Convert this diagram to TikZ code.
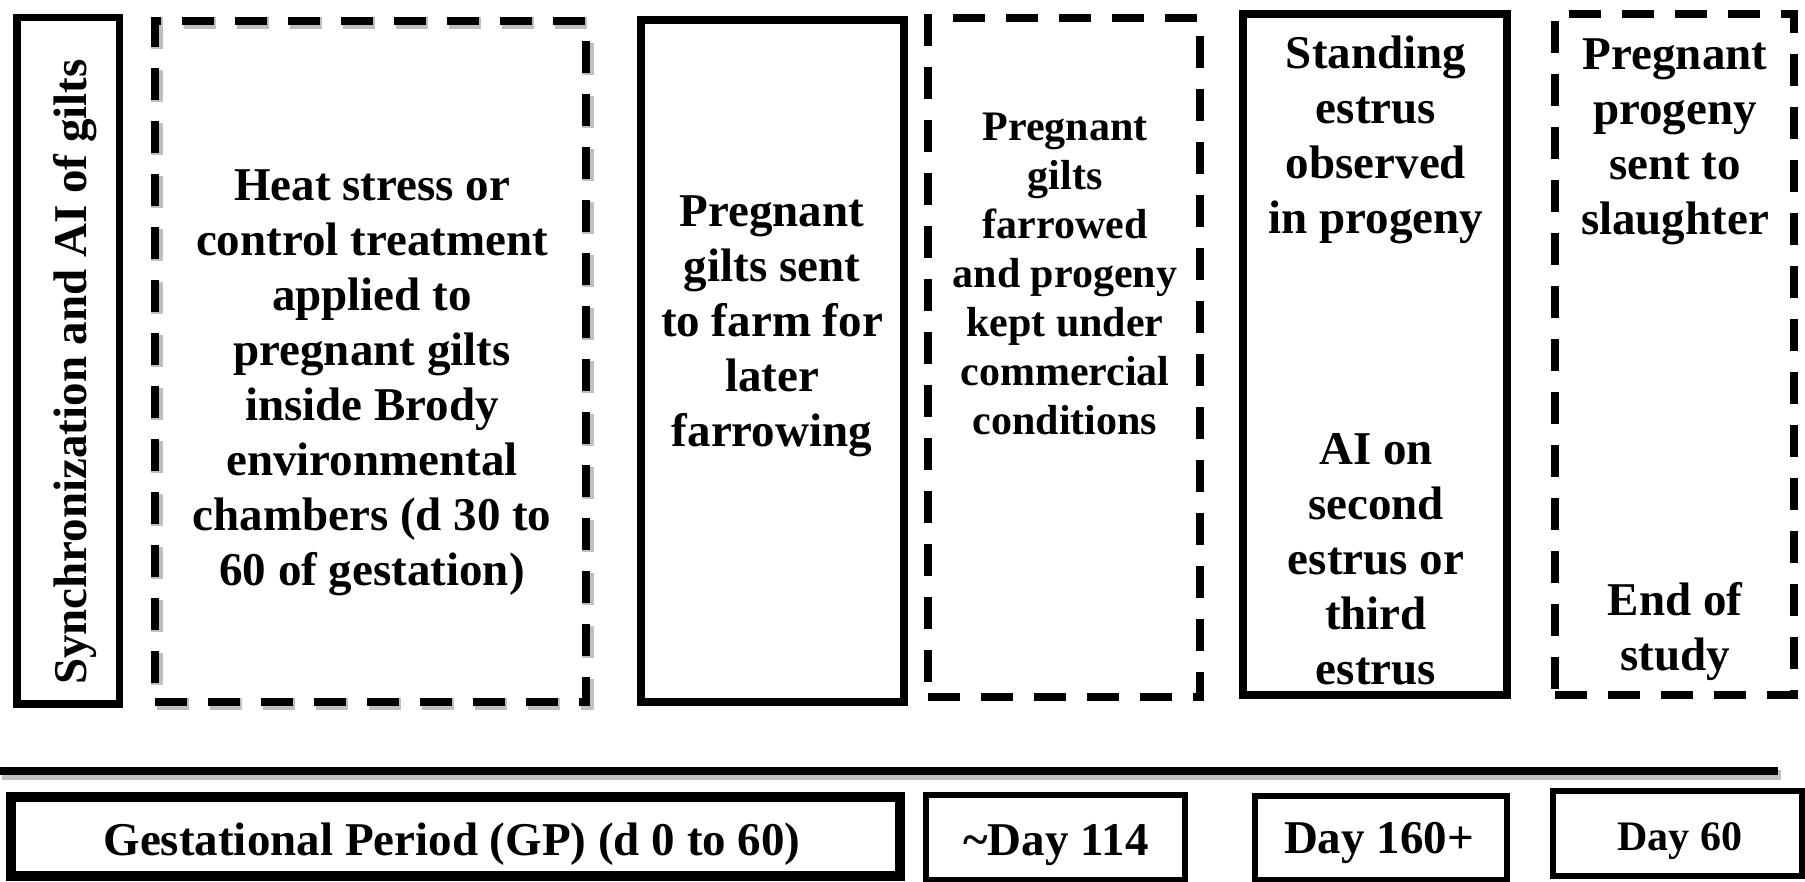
\documentclass[tikz,border=0pt]{standalone}
\usepackage{fontspec}
\setmainfont{Liberation Serif}

\newcommand{\bigtxt}{\fontsize{23.5pt}{27.5pt}\selectfont\bfseries}
\newcommand{\smalltxt}{\fontsize{21pt}{24.5pt}\selectfont\bfseries}

\tikzset{
  stage/.style={draw, line width=3.75pt, inner sep=0pt},
  dstage/.style={stage, line width=4pt, dash pattern=on 16pt off 10.5pt},
  daybox/.style={draw, line width=3pt, inner sep=0pt},
  blur/.style={draw=black!25, line width=6pt, inner sep=0pt},
  lbl/.style={align=center, inner sep=0pt, font=\bigtxt},
  slbl/.style={lbl, font=\smalltxt},
}

\begin{document}
\begin{tikzpicture}[x=0.5pt,y=-0.5pt]
\useasboundingbox (0,0) rectangle (1805,882);

\node[blur, dash pattern=on 16pt off 10.5pt, minimum width=215.5pt, minimum height=340.5pt] (S2) at (372.5,363.5) {};

\foreach \x/\y/\w/\h/\s [count=\n] in
  {68.25/360.75/51.25/343.25/stage, 370.5/361.5/215.5/340.5/dstage,
   772.5/361/131.5/341/stage, 1064/357.5/136/339.5/dstage,
   1375/354.5/132/340.5/stage, 1674.5/354.5/119.5/340.5/dstage}
  \node[\s, minimum width=\w pt, minimum height=\h pt] (F\n) at (\x,\y) {};

\node[lbl, rotate=90] (T1) at (75,372) {Synchronization and AI of gilts};
\node[lbl] (T2) at (372,383) {Heat stress or\\control treatment\\applied to\\pregnant gilts\\inside Brody\\environmental\\chambers (d 30 to\\60 of gestation)};
\node[lbl] (T3) at (772,326) {Pregnant\\gilts sent\\to farm for\\later\\farrowing};
\node[slbl] (T4) at (1065,274) {Pregnant\\gilts\\farrowed\\and progeny\\kept under\\commercial\\conditions};
\node[lbl] (T5) at (1376,140) {Standing\\estrus\\observed\\in progeny};
\node[lbl] (T6) at (1376,559) {AI on\\second\\estrus or\\third\\estrus};
\node[lbl] (T7) at (1675,142) {Pregnant\\progeny\\sent to\\slaughter};
\node[lbl] (T8) at (1675,632) {End of\\study};

\coordinate (R1) at (0,771);
\coordinate (R2) at (1778,771);
\coordinate (R3) at (2,775);
\coordinate (R4) at (1781,775);
\draw[black!25, line width=5pt] (R3) -- (R4);
\draw[line width=4pt] (R1) -- (R2);

\foreach \x/\y/\w/\h [count=\n] in
  {455.5/836.5/442.5/37.5, 1055.5/837.5/129.5/42.5,
   1381/838/126/42, 1677.5/833.5/124.5/42.5}
  \node[daybox, minimum width=\w pt, minimum height=\h pt] (G\n) at (\x,\y) {};
\draw[line width=3.75pt] (G1.south west) rectangle (G1.north east);

\node[lbl] (D1) at (452,844) {Gestational Period (GP) (d 0 to 60)};
\node[lbl] (D2) at (1056,845) {\textasciitilde Day 114};
\node[lbl] (D3) at (1379,843) {Day 160+};
\node[slbl] (D4) at (1680,841) {Day 60};
\end{tikzpicture}
\end{document}
